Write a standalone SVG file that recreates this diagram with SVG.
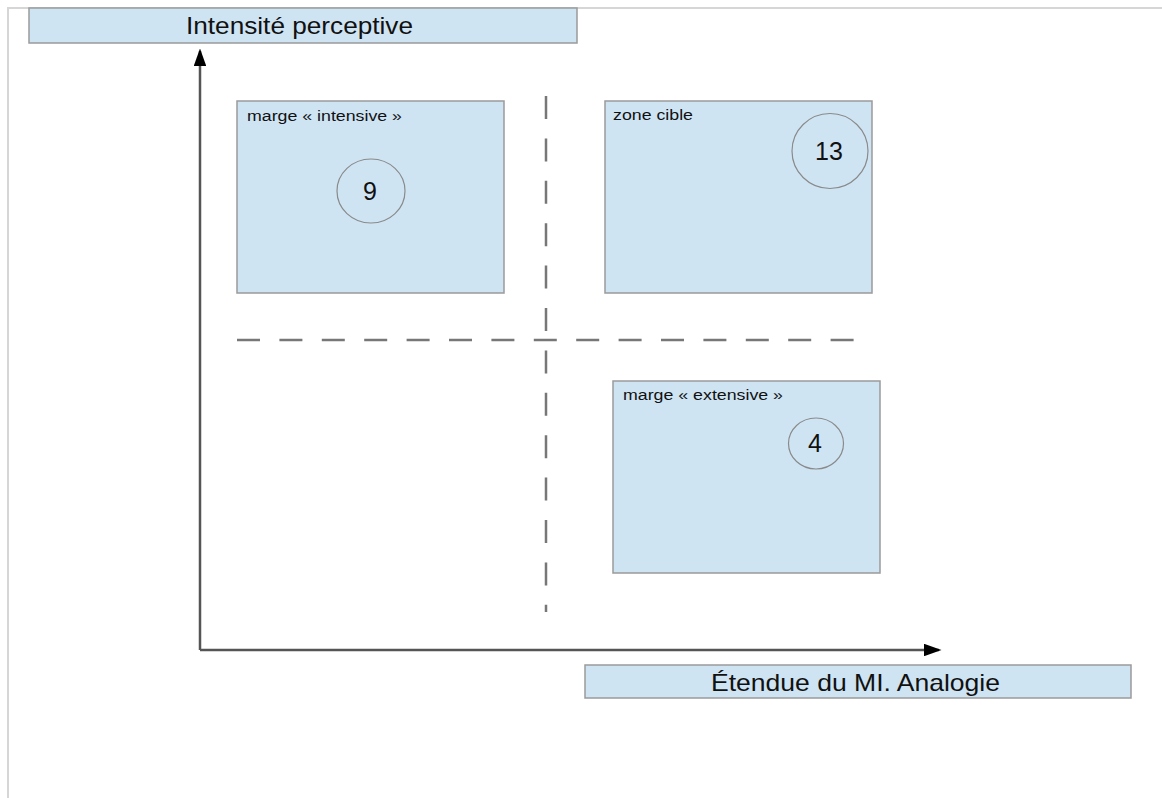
<svg xmlns="http://www.w3.org/2000/svg" width="1162" height="798" viewBox="0 0 1162 798">
<style>
.box{fill:#cfe4f3;stroke:#9a9a9a;stroke-width:1.5}
.circ{fill:none;stroke:#8a8a8a;stroke-width:1.2}
.lbl{font-family:"Liberation Sans",Arial,sans-serif;fill:#111}
.small{font-size:14px}
.big{font-size:24px}
.num{font-size:25px;text-anchor:middle}
.axis{stroke:#555;stroke-width:2.5;fill:none}
.dash{stroke:#777;stroke-width:2.5;fill:none;stroke-dasharray:23 19.4}
</style>
<defs>
<marker id="arr" markerWidth="7" markerHeight="5" refX="6" refY="2.5" orient="auto" markerUnits="strokeWidth">
<path d="M0,0 L7,2.5 L0,5 Z" fill="#000"/>
</marker>
</defs>
<rect width="1162" height="798" fill="#fff"/>
<path d="M8,798 V8 H1162" fill="none" stroke="#d6d6d6" stroke-width="2"/>

<g id="title-y">
<rect class="box" x="29" y="8" width="548" height="35"/>
<text class="lbl big" x="186" y="34" textLength="227" lengthAdjust="spacingAndGlyphs">Intensité perceptive</text>
</g>
<g id="title-x">
<rect class="box" x="585" y="665" width="546" height="33"/>
<text class="lbl big" x="711" y="691" textLength="289" lengthAdjust="spacingAndGlyphs">Étendue du MI. Analogie</text>
</g>

<g id="connectors">
<path class="axis" d="M200,650 V51" marker-end="url(#arr)"/>
<path class="axis" d="M200,650 H939" marker-end="url(#arr)"/>
<path class="dash" d="M546,96 V612"/>
<path class="dash" d="M237,340 H856"/>
</g>

<g id="marge-intensive">
<rect class="box" x="237" y="101" width="267" height="192"/>
<text class="lbl small" x="247" y="121" textLength="155" lengthAdjust="spacingAndGlyphs">marge « intensive »</text>
<ellipse class="circ" cx="371" cy="191" rx="34" ry="32"/>
<text class="lbl num" x="370" y="200">9</text>
</g>

<g id="zone-cible">
<rect class="box" x="605" y="101" width="267" height="192"/>
<text class="lbl small" x="613" y="120" textLength="80" lengthAdjust="spacingAndGlyphs">zone cible</text>
<ellipse class="circ" cx="830" cy="151" rx="38" ry="37.5"/>
<text class="lbl num" x="829" y="160">13</text>
</g>

<g id="marge-extensive">
<rect class="box" x="613" y="381" width="267" height="192"/>
<text class="lbl small" x="623" y="400" textLength="160" lengthAdjust="spacingAndGlyphs">marge « extensive »</text>
<ellipse class="circ" cx="816" cy="443.5" rx="27.5" ry="25.5"/>
<text class="lbl num" x="815" y="452">4</text>
</g>
</svg>
